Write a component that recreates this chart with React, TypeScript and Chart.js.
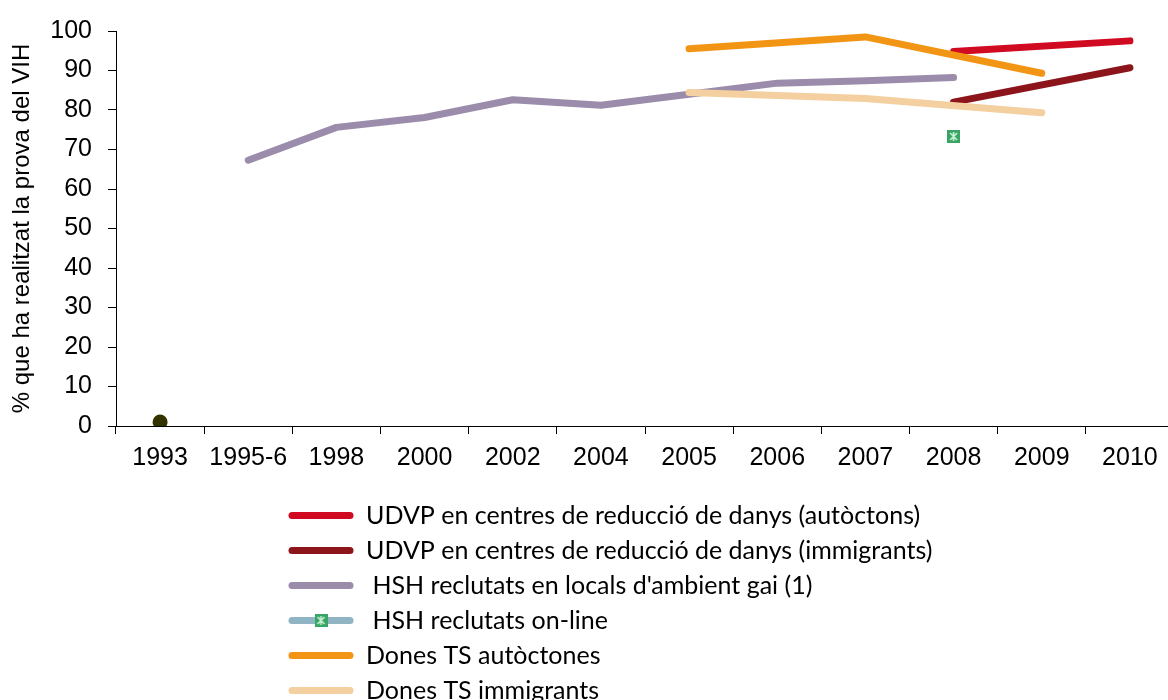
import React, { useEffect, useRef } from 'react';
import { Chart, registerables } from 'chart.js';

Chart.register(...registerables);

const categories = ['1993', '1995-6', '1998', '2000', '2002', '2004', '2005', '2006', '2007', '2008', '2009', '2010'];

const udvpAutoctons = [null, null, null, null, null, null, null, null, null, 94.8, null, 97.5];
const udvpImmigrants = [null, null, null, null, null, null, null, null, null, 82.0, null, 90.7];
const hshLocals = [null, 67.3, 75.6, 78.1, 82.6, 81.2, 84.0, 86.8, 87.4, 88.2, null, null];
const hshOnline = [null, null, null, null, null, null, null, null, null, 73.3, null, null];
const donesAutoctones = [null, null, null, null, null, null, 95.5, null, 98.5, null, 89.3, null];
const donesImmigrants = [null, null, null, null, null, null, 84.4, null, 82.9, null, 79.3, null];
const survey1993 = [1.0, null, null, null, null, null, null, null, null, null, null, null];

const seriesLabels = [
  'UDVP en centres de reducció de danys (autòctons)',
  'UDVP en centres de reducció de danys (immigrants)',
  " HSH reclutats en locals d'ambient gai (1)",
  ' HSH reclutats on-line',
  'Dones TS autòctones',
  'Dones TS immigrants',
];
const seriesColors = ['#cf0a21', '#8c151c', '#9c8cab', '#8fb4c4', '#f29414', '#f4cf9f'];
const yTitle = '% que ha realitzat la prova del VIH';

const TICK_FONT = { family: '"Liberation Sans", Arial, sans-serif', size: 25 };
const LEGEND_FONT = '25px Lato, "Noto Sans", sans-serif';

function makeMarker(): HTMLCanvasElement {
  const c = document.createElement('canvas');
  c.width = 13;
  c.height = 13;
  const g = c.getContext('2d')!;
  g.fillStyle = '#3aa466';
  g.fillRect(0, 0, 13, 13);
  g.strokeStyle = '#c9f3d4';
  g.lineWidth = 1.6;
  g.beginPath();
  g.moveTo(3, 3); g.lineTo(10, 10);
  g.moveTo(10, 3); g.lineTo(3, 10);
  g.moveTo(6.5, 2); g.lineTo(6.5, 11);
  g.stroke();
  return c;
}

export default function App() {
  const ref = useRef<HTMLCanvasElement | null>(null);

  useEffect(() => {
    const canvas = ref.current;
    if (!canvas) return;
    const marker = makeMarker();

    const legendPlugin = {
      id: 'customLegend',
      afterDraw(chart: any) {
        const ctx = chart.ctx;
        ctx.save();
        const x0 = 292;
        const x1 = 350;
        const tx = 366;
        const y0 = 515.5;
        const step = 35;
        seriesLabels.forEach((label, i) => {
          const y = y0 + i * step;
          ctx.strokeStyle = seriesColors[i];
          ctx.lineWidth = 7;
          ctx.lineCap = 'round';
          ctx.beginPath();
          ctx.moveTo(x0, y);
          ctx.lineTo(x1, y);
          ctx.stroke();
          if (i === 3) {
            ctx.drawImage(marker, (x0 + x1) / 2 - 6.5, y - 6.5);
          }
          ctx.fillStyle = '#000';
          ctx.font = LEGEND_FONT;
          ctx.textAlign = 'left';
          ctx.textBaseline = 'alphabetic';
          ctx.fillText(label, tx, y + 8.5);
        });
        ctx.restore();
      },
    };

    const lineDs = (label: string, data: (number | null)[], color: string, order: number) => ({
      label,
      data,
      borderColor: color,
      backgroundColor: color,
      borderWidth: 7,
      borderCapStyle: 'round',
      borderJoinStyle: 'round',
      pointRadius: 0,
      pointHoverRadius: 0,
      spanGaps: true,
      tension: 0,
      order,
    });

    const chart = new Chart(canvas, {
      type: 'line',
      data: {
        labels: categories,
        datasets: [
          lineDs(seriesLabels[0], udvpAutoctons, seriesColors[0], 6),
          lineDs(seriesLabels[1], udvpImmigrants, seriesColors[1], 5),
          lineDs(seriesLabels[2], hshLocals, seriesColors[2], 4),
          {
            label: seriesLabels[3],
            data: hshOnline,
            borderColor: seriesColors[3],
            backgroundColor: seriesColors[3],
            showLine: false,
            pointStyle: marker,
            pointRadius: 7,
            order: 3,
          },
          lineDs(seriesLabels[4], donesAutoctones, seriesColors[4], 2),
          lineDs(seriesLabels[5], donesImmigrants, seriesColors[5], 1),
          {
            label: '1993',
            data: survey1993,
            showLine: false,
            pointRadius: 7.5,
            pointStyle: 'circle',
            backgroundColor: '#333300',
            borderColor: '#333300',
            borderWidth: 0,
            order: 0,
          },
        ] as any,
      },
      options: {
        responsive: false,
        animation: false,
        devicePixelRatio: 1,
        layout: { padding: { left: 0, top: 26, right: 0, bottom: 244 } },
        plugins: {
          legend: { display: false },
          tooltip: { enabled: false },
        },
        scales: {
          x: {
            type: 'category',
            offset: true,
            grid: {
              offset: true,
              drawOnChartArea: false,
              drawTicks: true,
              tickLength: 8,
              color: '#000',
              lineWidth: 1,
            },
            border: { color: '#000', width: 1 },
            ticks: {
              font: TICK_FONT,
              color: '#000',
              padding: 9,
              maxRotation: 0,
              autoSkip: false,
            },
            afterFit: (s: any) => {
              s.height = 50;
            },
          },
          y: {
            min: 0,
            max: 100,
            grid: {
              drawOnChartArea: false,
              drawTicks: true,
              tickLength: 8,
              color: '#000',
              lineWidth: 1,
            },
            border: { color: '#000', width: 1 },
            ticks: {
              stepSize: 10,
              font: TICK_FONT,
              color: '#000',
              padding: 16,
            },
            title: {
              display: true,
              text: yTitle,
              font: { family: '"Liberation Sans", Arial, sans-serif', size: 24 },
              color: '#000',
              padding: { top: 8, bottom: 0 },
            },
            afterFit: (s: any) => {
              s.width = 116;
            },
          },
        },
      } as any,
      plugins: [legendPlugin],
    });

    return () => chart.destroy();
  }, []);

  return (
    <div
      style={{
        position: 'fixed',
        left: 0,
        top: 0,
        width: 1168,
        height: 700,
        overflow: 'hidden',
        background: '#fff',
      }}
    >
      <canvas ref={ref} width={1182} height={720} style={{ display: 'block', width: 1182, height: 720 }} />
    </div>
  );
}
